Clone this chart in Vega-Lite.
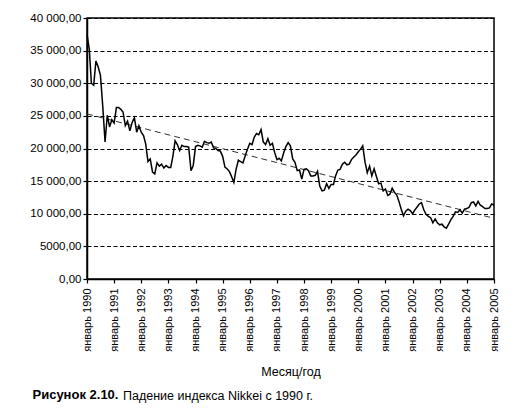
{
  "$schema": "https://vega.github.io/schema/vega-lite/v6.json",
  "width": 407,
  "height": 261,
  "autosize": "none",
  "padding": {"left": 87, "top": 18, "right": 22, "bottom": 134},
  "background": "white",
  "config": {
    "font": "Liberation Sans",
    "view": {"stroke": "black", "strokeWidth": 1.5}
  },
  "title": {
    "text": "Падение индекса Nikkei с 1990 г.",
    "orient": "bottom",
    "anchor": "start",
    "frame": "group",
    "dx": 36,
    "offset": -11,
    "font": "Liberation Sans",
    "fontSize": 12.5,
    "fontWeight": "normal",
    "color": "black"
  },
  "datasets": {
    "nikkei": [
      {"d": "1990-01", "v": 37500}, {"d": "1990-02", "v": 35200}, {"d": "1990-03", "v": 30000},
      {"d": "1990-04", "v": 29700}, {"d": "1990-05", "v": 33400}, {"d": "1990-06", "v": 32500},
      {"d": "1990-07", "v": 31200}, {"d": "1990-08", "v": 26500}, {"d": "1990-09", "v": 21000},
      {"d": "1990-10", "v": 25100}, {"d": "1990-11", "v": 23300}, {"d": "1990-12", "v": 24400},
      {"d": "1991-01", "v": 23900}, {"d": "1991-02", "v": 26300}, {"d": "1991-03", "v": 26300},
      {"d": "1991-04", "v": 26000}, {"d": "1991-05", "v": 25600}, {"d": "1991-06", "v": 23500},
      {"d": "1991-07", "v": 24200}, {"d": "1991-08", "v": 22700}, {"d": "1991-09", "v": 24000},
      {"d": "1991-10", "v": 24700}, {"d": "1991-11", "v": 22500}, {"d": "1991-12", "v": 23500},
      {"d": "1992-01", "v": 22500}, {"d": "1992-02", "v": 22000}, {"d": "1992-03", "v": 20700},
      {"d": "1992-04", "v": 18000}, {"d": "1992-05", "v": 18400}, {"d": "1992-06", "v": 16400},
      {"d": "1992-07", "v": 16100}, {"d": "1992-08", "v": 17800}, {"d": "1992-09", "v": 17300},
      {"d": "1992-10", "v": 17600}, {"d": "1992-11", "v": 17000}, {"d": "1992-12", "v": 17400},
      {"d": "1993-01", "v": 17100}, {"d": "1993-02", "v": 17100}, {"d": "1993-03", "v": 18700},
      {"d": "1993-04", "v": 21200}, {"d": "1993-05", "v": 20600}, {"d": "1993-06", "v": 19700},
      {"d": "1993-07", "v": 20500}, {"d": "1993-08", "v": 20300}, {"d": "1993-09", "v": 20300},
      {"d": "1993-10", "v": 20200}, {"d": "1993-11", "v": 16600}, {"d": "1993-12", "v": 17400},
      {"d": "1994-01", "v": 20300}, {"d": "1994-02", "v": 20500}, {"d": "1994-03", "v": 20400},
      {"d": "1994-04", "v": 20200}, {"d": "1994-05", "v": 21100}, {"d": "1994-06", "v": 20900},
      {"d": "1994-07", "v": 20800}, {"d": "1994-08", "v": 21000}, {"d": "1994-09", "v": 20100},
      {"d": "1994-10", "v": 20000}, {"d": "1994-11", "v": 19700}, {"d": "1994-12", "v": 19600},
      {"d": "1995-01", "v": 18800}, {"d": "1995-02", "v": 17150}, {"d": "1995-03", "v": 16900},
      {"d": "1995-04", "v": 16500}, {"d": "1995-05", "v": 15700}, {"d": "1995-06", "v": 14800},
      {"d": "1995-07", "v": 16800}, {"d": "1995-08", "v": 18200}, {"d": "1995-09", "v": 18000},
      {"d": "1995-10", "v": 17800}, {"d": "1995-11", "v": 18900}, {"d": "1995-12", "v": 19900},
      {"d": "1996-01", "v": 20800}, {"d": "1996-02", "v": 20600}, {"d": "1996-03", "v": 21700},
      {"d": "1996-04", "v": 22300}, {"d": "1996-05", "v": 22100}, {"d": "1996-06", "v": 22900},
      {"d": "1996-07", "v": 21000}, {"d": "1996-08", "v": 20600}, {"d": "1996-09", "v": 21500},
      {"d": "1996-10", "v": 20500}, {"d": "1996-11", "v": 20800}, {"d": "1996-12", "v": 19400},
      {"d": "1997-01", "v": 18300}, {"d": "1997-02", "v": 18500}, {"d": "1997-03", "v": 18100},
      {"d": "1997-04", "v": 19300}, {"d": "1997-05", "v": 20300}, {"d": "1997-06", "v": 20900},
      {"d": "1997-07", "v": 20400}, {"d": "1997-08", "v": 18400}, {"d": "1997-09", "v": 17900},
      {"d": "1997-10", "v": 16600}, {"d": "1997-11", "v": 16700}, {"d": "1997-12", "v": 15300},
      {"d": "1998-01", "v": 16800}, {"d": "1998-02", "v": 16900}, {"d": "1998-03", "v": 16600},
      {"d": "1998-04", "v": 15800}, {"d": "1998-05", "v": 15800}, {"d": "1998-06", "v": 15900},
      {"d": "1998-07", "v": 16500}, {"d": "1998-08", "v": 14200}, {"d": "1998-09", "v": 13500},
      {"d": "1998-10", "v": 13600}, {"d": "1998-11", "v": 14600}, {"d": "1998-12", "v": 13900},
      {"d": "1999-01", "v": 14500}, {"d": "1999-02", "v": 14500}, {"d": "1999-03", "v": 15800},
      {"d": "1999-04", "v": 16700}, {"d": "1999-05", "v": 16800}, {"d": "1999-06", "v": 17600},
      {"d": "1999-07", "v": 17900}, {"d": "1999-08", "v": 17500}, {"d": "1999-09", "v": 17600},
      {"d": "1999-10", "v": 18300}, {"d": "1999-11", "v": 18700}, {"d": "1999-12", "v": 19000},
      {"d": "2000-01", "v": 19500}, {"d": "2000-02", "v": 19900}, {"d": "2000-03", "v": 20400},
      {"d": "2000-04", "v": 17900}, {"d": "2000-05", "v": 16300}, {"d": "2000-06", "v": 17300},
      {"d": "2000-07", "v": 15800}, {"d": "2000-08", "v": 16900}, {"d": "2000-09", "v": 15700},
      {"d": "2000-10", "v": 14600}, {"d": "2000-11", "v": 14700}, {"d": "2000-12", "v": 13500},
      {"d": "2001-01", "v": 13800}, {"d": "2001-02", "v": 12800}, {"d": "2001-03", "v": 13000},
      {"d": "2001-04", "v": 13900}, {"d": "2001-05", "v": 13300}, {"d": "2001-06", "v": 12900},
      {"d": "2001-07", "v": 11900}, {"d": "2001-08", "v": 10700}, {"d": "2001-09", "v": 9700},
      {"d": "2001-10", "v": 10400}, {"d": "2001-11", "v": 10700}, {"d": "2001-12", "v": 10500},
      {"d": "2002-01", "v": 10000}, {"d": "2002-02", "v": 10600}, {"d": "2002-03", "v": 11000},
      {"d": "2002-04", "v": 11500}, {"d": "2002-05", "v": 11700}, {"d": "2002-06", "v": 10600},
      {"d": "2002-07", "v": 9900}, {"d": "2002-08", "v": 9600}, {"d": "2002-09", "v": 9400},
      {"d": "2002-10", "v": 8600}, {"d": "2002-11", "v": 9200}, {"d": "2002-12", "v": 8600},
      {"d": "2003-01", "v": 8300}, {"d": "2003-02", "v": 8400}, {"d": "2003-03", "v": 8000},
      {"d": "2003-04", "v": 7800}, {"d": "2003-05", "v": 8400}, {"d": "2003-06", "v": 9100},
      {"d": "2003-07", "v": 9600}, {"d": "2003-08", "v": 10300}, {"d": "2003-09", "v": 10200},
      {"d": "2003-10", "v": 10600}, {"d": "2003-11", "v": 10100}, {"d": "2003-12", "v": 10700},
      {"d": "2004-01", "v": 10800}, {"d": "2004-02", "v": 11000}, {"d": "2004-03", "v": 11700},
      {"d": "2004-04", "v": 11800}, {"d": "2004-05", "v": 11200}, {"d": "2004-06", "v": 11900},
      {"d": "2004-07", "v": 11300}, {"d": "2004-08", "v": 11100}, {"d": "2004-09", "v": 10800},
      {"d": "2004-10", "v": 10800}, {"d": "2004-11", "v": 10900}, {"d": "2004-12", "v": 11500},
      {"d": "2005-01", "v": 11300}
    ],
    "trend": [
      {"d": "1990-01", "v": 25300},
      {"d": "2005-01", "v": 9300}
    ]
  },
  "encoding": {
    "x": {
      "field": "d",
      "type": "temporal",
      "scale": {
        "type": "utc",
        "domain": [
          {"year": 1990, "month": 1, "date": 1, "utc": true},
          {"year": 2005, "month": 1, "date": 1, "utc": true}
        ]
      },
      "axis": {
        "title": "Месяц/год",
        "titleFont": "Liberation Sans",
        "titleFontSize": 12.5,
        "titleFontWeight": "normal",
        "titleColor": "black",
        "titlePadding": 14,
        "tickCount": {"interval": "year", "step": 1},
        "labelExpr": "'январь ' + utcFormat(datum.value, '%Y')",
        "labelAngle": 270,
        "labelFont": "Liberation Sans",
        "labelFontSize": 11,
        "labelColor": "black",
        "labelPadding": 5,
        "labelOverlap": false,
        "labelFlush": false,
        "grid": false,
        "tickSize": 4,
        "tickColor": "black",
        "tickWidth": 1.2,
        "domainColor": "black",
        "domainWidth": 1.5
      }
    },
    "y": {
      "field": "v",
      "type": "quantitative",
      "scale": {"domain": [0, 40000], "nice": false},
      "axis": {
        "title": "Рисунок 2.10.",
        "titleAngle": 0,
        "titleAlign": "left",
        "titleBaseline": "alphabetic",
        "titleX": -55,
        "titleY": 380,
        "titleFont": "Liberation Sans",
        "titleFontSize": 13,
        "titleFontWeight": "bold",
        "titleColor": "black",
        "values": [0, 5000, 10000, 15000, 20000, 25000, 30000, 35000, 40000],
        "labelExpr": "replace(replace(format(datum.value, datum.value >= 10000 ? ',.2f' : '.2f'), ',', ' '), '.', ',')",
        "labelFont": "Liberation Sans",
        "labelFontSize": 11.5,
        "labelColor": "black",
        "labelPadding": 2,
        "grid": true,
        "gridColor": "black",
        "gridDash": [4, 2.5],
        "gridWidth": 1.1,
        "tickSize": 4,
        "tickColor": "black",
        "tickWidth": 1.2,
        "domainColor": "black",
        "domainWidth": 1.5
      }
    }
  },
  "layer": [
    {
      "data": {"name": "trend"},
      "mark": {"type": "line", "stroke": "#333333", "strokeWidth": 1, "strokeDash": [6, 4]}
    },
    {
      "data": {"name": "nikkei"},
      "mark": {"type": "line", "stroke": "black", "strokeWidth": 1.5}
    }
  ]
}
